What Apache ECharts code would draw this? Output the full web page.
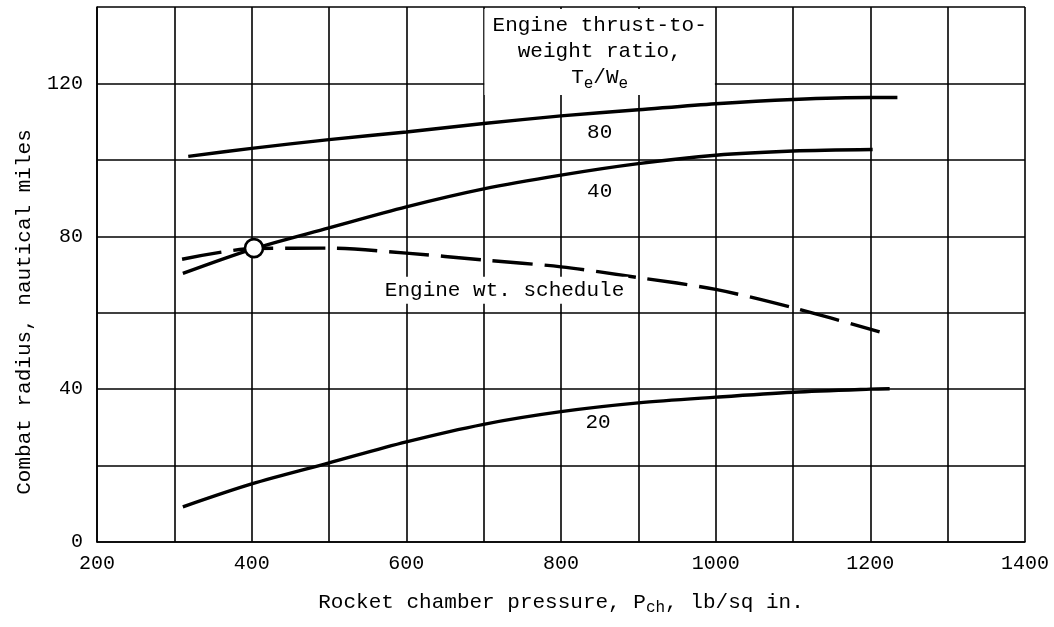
<!DOCTYPE html>
<html>
<head>
    <meta charset="utf-8">
    <title>Combat radius vs rocket chamber pressure</title>
    <style>
        html, body { margin: 0; padding: 0; background: #fff; }
    </style>
</head>
<body>
    <div id="main" style="width: 1054px; height: 627px;"></div>
    <script src="https://cdn.jsdelivr.net/npm/echarts@6/dist/echarts.min.js"></script>
    <script type="text/javascript">
        // curves: pressure (lb/sq in.) vs combat radius (n. mi.)
        var pressure80 = [318, 400, 500, 600, 700, 800, 900, 1000, 1100, 1200, 1235];
        var radius80   = [100.9, 103.0, 105.3, 107.3, 109.5, 111.5, 113.1, 114.7, 115.8, 116.3, 116.3];

        var pressure40 = [311, 400, 500, 600, 700, 800, 900, 1000, 1100, 1203];
        var radius40   = [70.3, 76.6, 82.2, 87.7, 92.4, 96.0, 99.0, 101.2, 102.3, 102.7];

        var pressure20 = [311, 400, 500, 600, 700, 800, 900, 1000, 1100, 1200, 1225];
        var radius20   = [9.2, 15.2, 20.7, 26.2, 30.8, 34.1, 36.4, 37.9, 39.2, 40.0, 40.1];

        // engine weight schedule (dashed)
        var pressureSched = [310, 403, 500, 600, 700, 800, 900, 1000, 1100, 1212];
        var radiusSched   = [74.0, 76.8, 76.9, 75.6, 73.8, 72.0, 69.2, 66.1, 61.3, 55.0];

        // design point (circle)
        var designPoint = [403, 76.9];

        // curve labels
        var labelNames = ['80', '40', '20', 'Engine wt. schedule'];
        var labelX     = [850, 850, 848, 727];
        var labelY     = [107.1, 91.8, 31.2, 65.9];

        // box holding the T/W heading
        var boxX = [701, 999];
        var boxY = [117, 139.5];

        var xTicks = [200, 400, 600, 800, 1000, 1200, 1400];
        var yTicks = [0, 40, 80, 120];

        var FONT = 'Liberation Mono';
        var INK = '#000';

        function pairs(xs, ys) {
            return xs.map(function (x, i) { return [x, ys[i]]; });
        }

        var chartDom = document.getElementById('main');
        var myChart = echarts.init(chartDom);

        function curve(name, xs, ys, dashed) {
            return {
                name: name,
                type: 'line',
                data: pairs(xs, ys),
                smooth: 0.3,
                showSymbol: false,
                symbol: 'none',
                animation: false,
                lineStyle: {
                    color: '#000',
                    width: 3.4,
                    type: dashed ? [40, 12] : 'solid'
                },
                z: 3
            };
        }

        var labelData = labelNames.map(function (n, i) {
            var d = { name: n, value: [labelX[i], labelY[i]] };
            if (n.length > 3) {
                d.label = { backgroundColor: '#fff', padding: [3, 4] };
            }
            return d;
        });

        var option = {
            animation: false,
            grid: { left: 97, right: 29, top: 7, bottom: 85 },
            xAxis: {
                type: 'value',
                min: 200,
                max: 1400,
                interval: 100,
                name: '{a|Rocket chamber pressure, P}{s|ch}{a|, lb/sq in.}',
                nameLocation: 'middle',
                nameGap: 46,
                nameTextStyle: {
                    rich: {
                        a: { fontFamily: FONT, fontSize: 21, color: INK },
                        s: { fontFamily: FONT, fontSize: 16, color: INK, padding: [12, 0, 0, 0] }
                    }
                },
                axisLine: { show: true, lineStyle: { color: '#000', width: 1.6 } },
                axisTick: { show: false },
                axisLabel: {
                    fontFamily: FONT, fontSize: 20, color: INK, margin: 12,
                    formatter: function (v) { return xTicks.indexOf(v) >= 0 ? String(v) : ''; }
                },
                splitLine: { show: true, lineStyle: { color: '#000', width: 1.6 } }
            },
            yAxis: {
                type: 'value',
                min: 0,
                max: 140,
                interval: 20,
                axisLine: { show: true, lineStyle: { color: '#000', width: 1.6 } },
                axisTick: { show: false },
                axisLabel: {
                    fontFamily: FONT, fontSize: 20, color: INK, margin: 14,
                    formatter: function (v) { return yTicks.indexOf(v) >= 0 ? String(v) : ''; }
                },
                splitLine: { show: true, lineStyle: { color: '#000', width: 1.6 } }
            },
            graphic: [{
                type: 'text',
                x: 24,
                y: 312,
                rotation: Math.PI / 2,
                style: {
                    text: 'Combat radius, nautical miles',
                    fontFamily: FONT,
                    fontSize: 21,
                    fill: INK,
                    textAlign: 'center',
                    textVerticalAlign: 'middle'
                }
            }],
            series: [
                curve('80', pressure80, radius80, false),
                curve('40', pressure40, radius40, false),
                curve('Engine wt. schedule', pressureSched, radiusSched, true),
                curve('20', pressure20, radius20, false),
                {
                    name: 'design point',
                    type: 'scatter',
                    data: [designPoint],
                    symbol: 'circle',
                    symbolSize: 18,
                    itemStyle: { color: '#fff', borderColor: '#000', borderWidth: 2.6, opacity: 1 },
                    z: 5
                },
                {
                    name: 'labels',
                    type: 'scatter',
                    data: labelData,
                    symbolSize: 0,
                    z: 6,
                    itemStyle: { opacity: 1 },
                    label: {
                        show: true,
                        position: 'inside',
                        formatter: '{b}',
                        fontFamily: FONT,
                        fontSize: 21,
                        color: INK
                    },
                    markArea: {
                        silent: true,
                        itemStyle: { color: '#fff', borderWidth: 0, opacity: 1 },
                        label: {
                            show: true,
                            position: 'insideTop',
                            distance: 4,
                            formatter: '{a|Engine thrust-to-}\n{a|weight ratio,}\n{a|T}{s|e}{a|/W}{s|e}',
                            rich: {
                                a: { fontFamily: FONT, fontSize: 21, color: INK, lineHeight: 26 },
                                s: { fontFamily: FONT, fontSize: 16, color: INK, lineHeight: 26, padding: [12, 0, 0, 0] }
                            }
                        },
                        data: [[
                            { xAxis: boxX[0], yAxis: boxY[1] },
                            { xAxis: boxX[1], yAxis: boxY[0] }
                        ]]
                    }
                }
            ]
        };

        myChart.setOption(option);
    </script>
</body>
</html>
